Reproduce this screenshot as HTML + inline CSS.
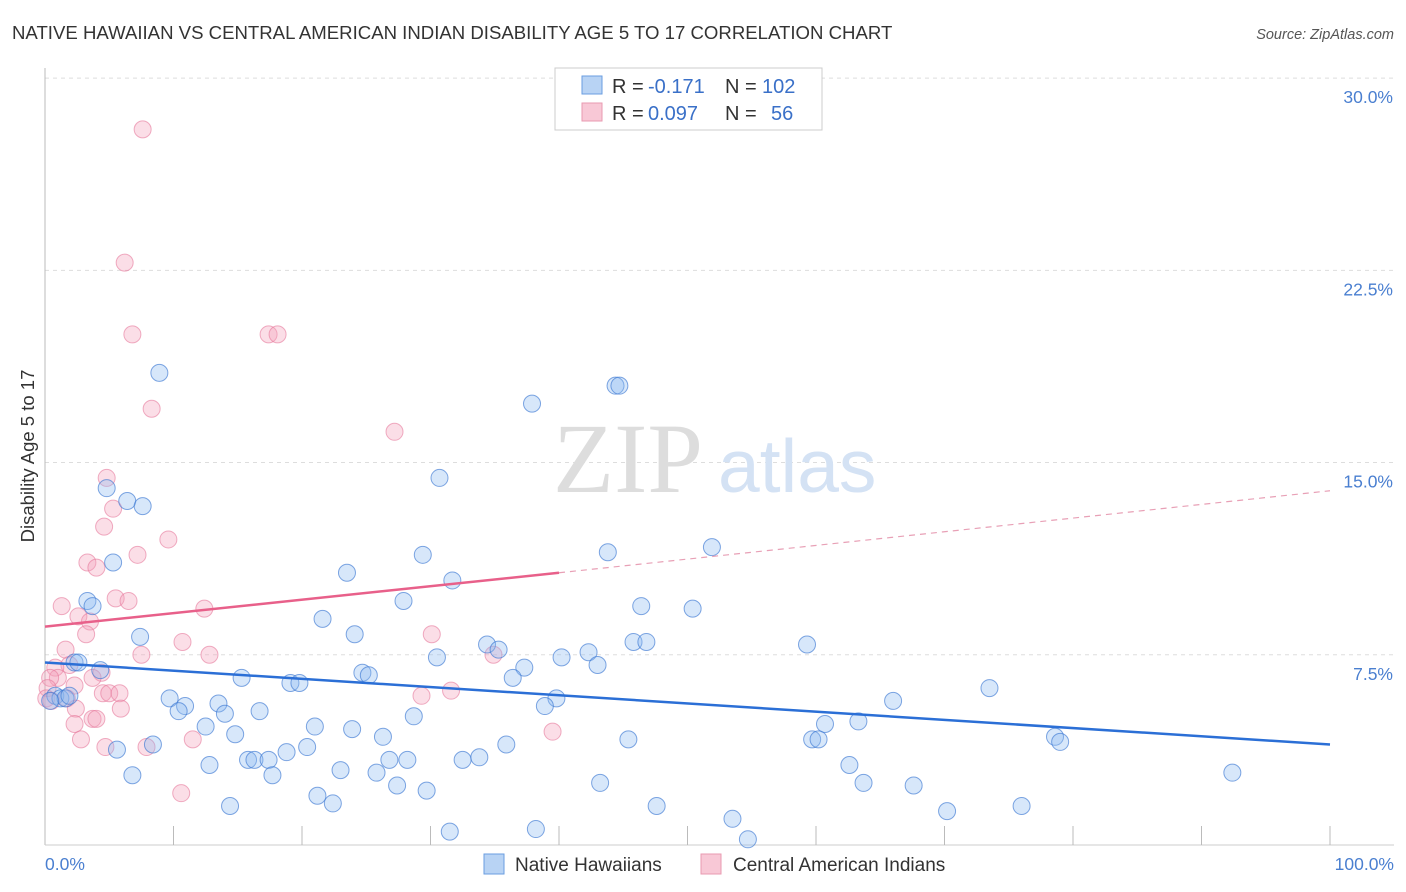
<!DOCTYPE html>
<html><head><meta charset="utf-8"><style>
body{margin:0;background:#fff;font-family:"Liberation Sans",sans-serif;}
svg{display:block}
</style></head><body>
<svg id="chart" width="1406" height="892" xmlns="http://www.w3.org/2000/svg">
<text x="12" y="39" font-size="18.6" fill="#333">NATIVE HAWAIIAN VS CENTRAL AMERICAN INDIAN DISABILITY AGE 5 TO 17 CORRELATION CHART</text>
<text x="1394" y="39" font-size="14.5" fill="#555" font-style="italic" text-anchor="end">Source: ZipAtlas.com</text>
<g id="grid"></g>
<text x="553" y="492" font-size="100" fill="#ddd" font-family="Liberation Serif,serif">ZIP</text>
<text x="718" y="492" font-size="75" fill="#d4e2f4">atlas</text>
<g id="axes"></g>
<g id="pink"></g>
<g id="blue"></g>
<g id="trends"></g>
<text transform="translate(34,456) rotate(-90)" font-size="18.5" fill="#333" text-anchor="middle">Disability Age 5 to 17</text>
<text x="45" y="870" font-size="17.5" fill="#4a7fd0">0.0%</text>
<text x="1394" y="870" font-size="17.5" fill="#4a7fd0" text-anchor="end">100.0%</text>
<g>
<rect x="555" y="68" width="267" height="62" fill="#fff" stroke="#ccc"/>
<rect x="582" y="76" width="20" height="18" fill="#b8d3f4" stroke="#6a9ee0"/>
<rect x="582" y="103" width="20" height="18" fill="#f8c8d6" stroke="#e89ab0"/>
<text x="612" y="93" font-size="20" fill="#333">R =</text>
<text x="648" y="93" font-size="20" fill="#3a70c8">-0.171</text>
<text x="725" y="93" font-size="20" fill="#333">N =</text>
<text x="762" y="93" font-size="20" fill="#3a70c8">102</text>
<text x="612" y="120" font-size="20" fill="#333">R =</text>
<text x="648" y="120" font-size="20" fill="#3a70c8">0.097</text>
<text x="725" y="120" font-size="20" fill="#333">N =</text>
<text x="771" y="120" font-size="20" fill="#3a70c8">56</text>
</g>
<g>
<rect x="484" y="854" width="20" height="20" fill="#b8d3f4" stroke="#6a9ee0"/>
<text x="515" y="871" font-size="19" fill="#333">Native Hawaiians</text>
<rect x="701" y="854" width="20" height="20" fill="#f8c8d6" stroke="#e89ab0"/>
<text x="733" y="871" font-size="19" fill="#333">Central American Indians</text>
</g>
</svg>
<script>
const yTicks=[7.5,15,22.5,30];
const yTickLabels=["7.5%","15.0%","22.5%","30.0%"];
const blueX=[8.9,37.9,44.4,44.7,30.7,4.8,6.4,7.6,29.4,43.8,51.9,5.3,23.5,31.7,3.3,3.7,27.9,46.4,50.4,21.6,7.4,24.1,34.4,35.3,45.8,46.8,59.3,2.3,2.6,4.3,30.5,40.2,42.3,43.0,37.3,24.7,25.2,15.3,19.1,19.8,36.4,0.8,1.2,1.6,1.9,0.4,9.7,10.9,10.4,13.5,14.0,16.7,39.8,38.9,73.5,66.0,28.7,12.5,21.0,23.9,63.3,60.7,14.8,26.3,45.4,59.7,60.2,78.6,79.0,8.4,5.6,20.4,18.8,35.9,15.8,16.3,17.4,26.8,28.2,32.5,33.8,12.8,23.0,25.8,62.6,6.8,17.7,92.4,43.2,63.7,67.6,27.4,29.7,21.2,22.4,14.4,47.6,76.0,70.2,53.5,31.5,38.2,54.7];
const blueY=[18.5,17.3,18.0,18.0,14.4,14.0,13.5,13.3,11.4,11.5,11.7,11.1,10.7,10.4,9.6,9.4,9.6,9.4,9.3,8.9,8.2,8.3,7.9,7.7,8.0,8.0,7.9,7.2,7.2,6.9,7.4,7.4,7.6,7.1,7.0,6.8,6.7,6.6,6.4,6.4,6.6,5.9,5.8,5.8,5.9,5.7,5.8,5.5,5.3,5.6,5.2,5.3,5.8,5.5,6.2,5.7,5.1,4.7,4.7,4.6,4.9,4.8,4.4,4.3,4.2,4.2,4.2,4.3,4.1,4.0,3.8,3.9,3.7,4.0,3.4,3.4,3.4,3.4,3.4,3.4,3.5,3.2,3.0,2.9,3.2,2.8,2.8,2.9,2.5,2.5,2.4,2.4,2.2,2.0,1.7,1.6,1.6,1.6,1.4,1.1,0.6,0.7,0.3];
const pinkX=[7.6,6.2,6.8,17.4,18.1,8.3,27.2,4.8,5.3,4.6,9.6,7.2,3.3,4.0,1.3,5.5,6.5,12.4,2.6,3.5,3.2,10.7,30.1,7.5,12.8,34.9,1.6,1.9,0.8,1.0,0.4,4.4,3.7,2.3,0.2,0.1,0.5,1.7,4.5,5.0,5.8,2.4,5.9,29.3,31.6,3.7,4.0,2.3,2.8,11.5,39.5,7.9,4.7,10.6];
const pinkY=[28.0,22.8,20.0,20.0,20.0,17.1,16.2,14.4,13.2,12.5,12.0,11.4,11.1,10.9,9.4,9.7,9.6,9.3,9.0,8.8,8.3,8.0,8.3,7.5,7.5,7.5,7.7,7.1,7.0,6.6,6.6,6.8,6.6,6.3,6.2,5.8,5.7,5.8,6.0,6.0,6.0,5.4,5.4,5.9,6.1,5.0,5.0,4.8,4.2,4.2,4.5,3.9,3.9,2.1];
const blueTrend=[[0,7.2],[100,4.0]];
const pinkTrend=[[0,8.6],[40,10.7],[100,13.9]];
const sx=v=>45+v*12.85, sy=v=>847-v*25.63;
const NS="http://www.w3.org/2000/svg";
function mk(tag,attrs,parent){const e=document.createElementNS(NS,tag);for(const k in attrs)e.setAttribute(k,attrs[k]);parent.appendChild(e);return e;}
const grid=document.getElementById('grid'),axes=document.getElementById('axes');
yTicks.forEach((t,i)=>{
  const l=mk('line',{x1:45,x2:1394,y1:sy(t),y2:sy(t),stroke:'#ddd','stroke-dasharray':'4,4'},grid);
  
  
  const tx=mk('text',{x:1393,y:sy(t)+25,'font-size':17.5,fill:'#4a7fd0','text-anchor':'end'},axes);
  tx.textContent=yTickLabels[i];
  
  
});
mk('line',{x1:45,x2:45,y1:68,y2:845,stroke:'#bbb'},axes);
mk('line',{x1:45,x2:1394,y1:845,y2:845,stroke:'#ccc'},axes);
for(let i=1;i<=10;i++){const tk=mk('line',{x1:sx(i*10),x2:sx(i*10),y1:826,y2:845,stroke:'#bbb'},axes);
  
  }
const pg=document.getElementById('pink'),bg=document.getElementById('blue');
pinkX.forEach((x,i)=>{const c=mk('circle',{cx:sx(x),cy:sy(pinkY[i]),r:8.5,fill:'rgba(244,160,185,0.35)',stroke:'rgba(230,120,155,0.6)','stroke-width':1},pg);
  
  });
blueX.forEach((x,i)=>{const c=mk('circle',{cx:sx(x),cy:sy(blueY[i]),r:8.5,fill:'rgba(140,185,240,0.35)',stroke:'rgba(60,120,210,0.65)','stroke-width':1},bg);
  
  });
const tg=document.getElementById('trends');
const bl=mk('line',{x1:sx(blueTrend[0][0]),y1:sy(blueTrend[0][1]),x2:sx(blueTrend[1][0]),y2:sy(blueTrend[1][1]),stroke:'#2b6fd6','stroke-width':2.5},tg);


const pl=mk('line',{x1:sx(pinkTrend[0][0]),y1:sy(pinkTrend[0][1]),x2:sx(pinkTrend[1][0]),y2:sy(pinkTrend[1][1]),stroke:'#e8608a','stroke-width':2.5},tg);


const pd=mk('line',{x1:sx(pinkTrend[1][0]),y1:sy(pinkTrend[1][1]),x2:sx(pinkTrend[2][0]),y2:sy(pinkTrend[2][1]),stroke:'#e8a0b6','stroke-width':1.2,'stroke-dasharray':'6,5'},tg);


</script>
</body></html>
